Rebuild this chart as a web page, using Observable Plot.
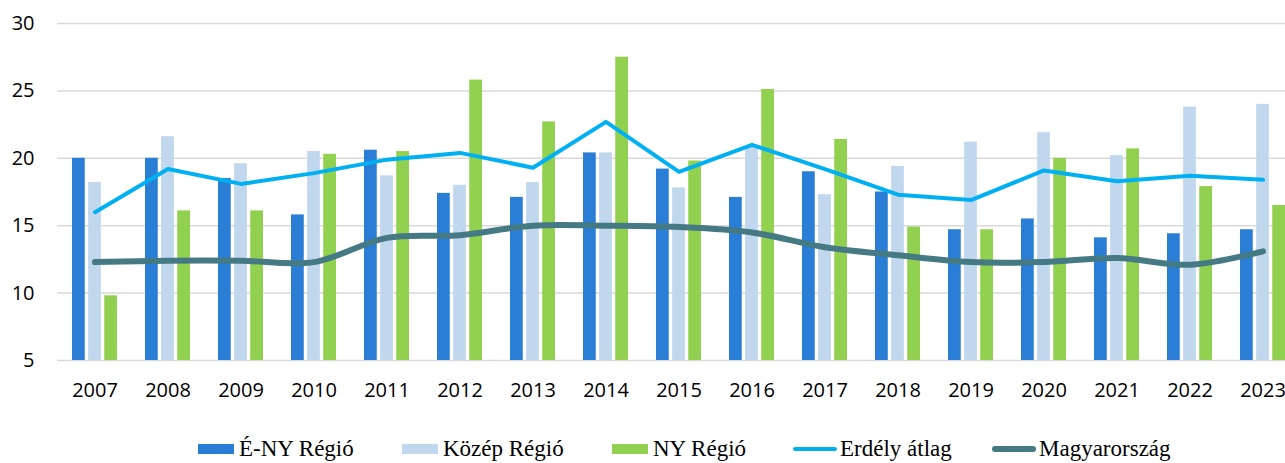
<!DOCTYPE html>
<html><head><meta charset="utf-8">
<script src="https://cdn.jsdelivr.net/npm/d3@7"></script>
<script src="https://cdn.jsdelivr.net/npm/@observablehq/plot@0.6"></script>
<style>
html,body{margin:0;background:#fff;overflow:hidden;width:1285px;height:463px;}
#wrap{position:relative;width:1285px;height:463px;overflow:hidden;}
#chart svg{display:block;}
#legend{position:absolute;left:0;top:438px;width:1285px;height:22px;font-family:"Liberation Serif","Times New Roman",serif;font-size:23px;color:#000;line-height:22px;white-space:nowrap;}
.item{position:absolute;top:0;display:flex;align-items:center;height:22px;}
.sw{width:36px;height:10px;margin-right:5px;}
.ln{width:44px;height:4px;border-radius:2px;margin-right:3px;}
.ln.thick{height:6px;border-radius:3px;}
</style></head><body><div id="wrap"><div id="chart"></div><div id="legend"></div></div>
<script>
const years = ["2007","2008","2009","2010","2011","2012","2013","2014","2015","2016","2017","2018","2019","2020","2021","2022","2023"];
const enyRegio = [20.0,20.0,18.5,15.8,20.6,17.4,17.1,20.4,19.2,17.1,19.0,17.5,14.7,15.5,14.1,14.4,14.7];
const kozepRegio = [18.2,21.6,19.6,20.5,18.7,18.0,18.2,20.4,17.8,20.8,17.3,19.4,21.2,21.9,20.2,23.8,24.0];
const nyRegio = [9.8,16.1,16.1,20.3,20.5,25.8,22.7,27.5,19.8,25.1,21.4,14.9,14.7,20.0,20.7,17.9,16.5];
const erdelyAtlag = [16.0,19.2,18.1,18.9,19.9,20.4,19.3,22.7,19.0,21.0,19.2,17.3,16.9,19.1,18.3,18.7,18.4];
const magyarorszag = [12.3,12.4,12.4,12.3,14.1,14.3,15.0,15.0,14.9,14.5,13.4,12.8,12.3,12.3,12.6,12.1,13.1];
const yTicks = [5,10,15,20,25,30];
const barSeries = [
  {name:"É-NY Régió", values: enyRegio, color:"#2B7ED6"},
  {name:"Közép Régió", values: kozepRegio, color:"#C1D7EE"},
  {name:"NY Régió", values: nyRegio, color:"#92D050"}
];
const lineSeries = [
  {name:"Erdély átlag", values: erdelyAtlag, color:"#00B0F0", width:4, curve:"linear"},
  {name:"Magyarország", values: magyarorszag, color:"#457A84", width:6, curve:"catmull-rom"}
];
const legendLeft = [198, 402, 612, 793, 992];

const W = 1285, H = 410, mL = 57, mR = -15, mT = 23, mB = 50;
const pIn = 0.39, pOut = 0.184, gap = 3.7;
const step = (W - mL - mR) / (years.length - pIn + 2 * pOut);
const bw = step * (1 - pIn);
const barW = (bw - 2 * gap) / 3;
const yMin = yTicks[0];

const marks = [
  Plot.gridY(yTicks, {stroke:"#d9d9d9", strokeOpacity:1, strokeWidth:1.5})
];
barSeries.forEach((s, k) => {
  const rows = years.map((y, i) => ({year: y, value: s.values[i]}));
  marks.push(Plot.rectY(rows, {
    x: "year", y1: yMin, y2: "value", fill: s.color,
    insetLeft: k * (barW + gap),
    insetRight: bw - (k + 1) * barW - k * gap
  }));
});
lineSeries.forEach(s => {
  const rows = years.map((y, i) => ({year: y, value: s.values[i]}));
  marks.push(Plot.line(rows, {x:"year", y:"value", stroke:s.color, strokeWidth:s.width, curve:s.curve, strokeLinecap:"round", strokeLinejoin:"round"}));
});
marks.push(Plot.axisY(yTicks, {tickSize:0, tickPadding:23, label:null, fontSize:20}));
marks.push(Plot.axisX({tickSize:0, tickPadding:22, label:null, fontSize:20}));

const chart = Plot.plot({
  width: W, height: H,
  marginLeft: mL, marginRight: mR, marginTop: mT, marginBottom: mB,
  style: {fontFamily:"'Open Sans', sans-serif", fontSize:"20px", color:"#000", background:"#fff", overflow:"hidden"},
  x: {type:"band", domain: years, paddingInner: pIn, paddingOuter: pOut},
  y: {domain:[yMin, yTicks[yTicks.length-1]]},
  marks
});
document.getElementById("chart").appendChild(chart);

const legend = document.getElementById("legend");
const allSeries = [...barSeries.map(s => ({...s, kind:"bar"})), ...lineSeries.map(s => ({...s, kind:"line"}))];
allSeries.forEach((s, i) => {
  const it = document.createElement("div"); it.className = "item"; it.style.left = legendLeft[i] + "px";
  const sw = document.createElement("div");
  sw.className = s.kind === "bar" ? "sw" : ("ln" + (s.width > 4 ? " thick" : ""));
  sw.style.background = s.color;
  const t = document.createElement("span"); t.textContent = s.name;
  it.appendChild(sw); it.appendChild(t); legend.appendChild(it);
});
</script></body></html>
